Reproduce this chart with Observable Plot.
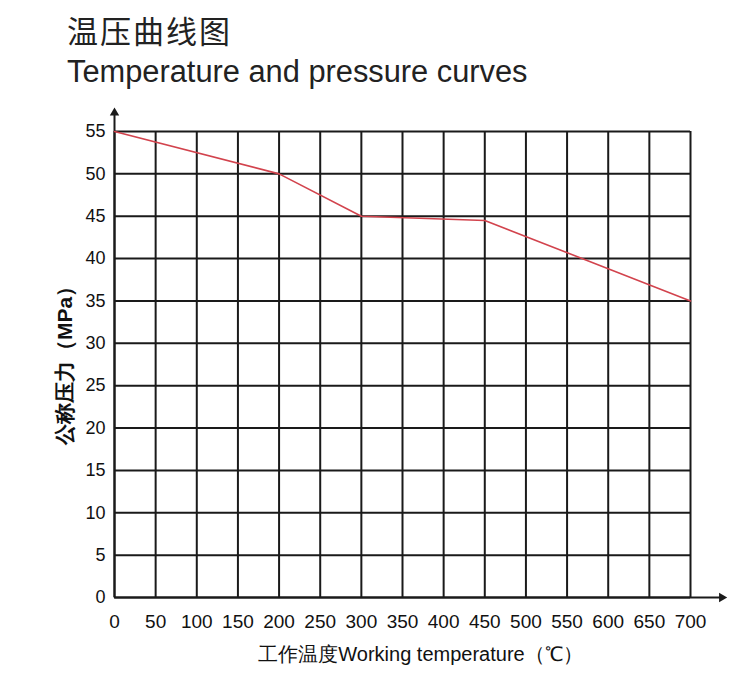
<!DOCTYPE html>
<html>
<head>
<meta charset="utf-8">
<script src="https://cdn.jsdelivr.net/npm/d3@7"></script>
<script src="https://cdn.jsdelivr.net/npm/@observablehq/plot@0.6"></script>
<style>
  body { margin: 0; background: #fff; width: 741px; height: 679px; overflow: hidden; }
  #head { position: relative; height: 100px; }
  #t1 { position: absolute; left: 67px; top: 14px; font-family: "Noto Sans CJK SC", sans-serif; font-size: 31px; line-height: 1; letter-spacing: 2px; color: #222; }
  #t2 { position: absolute; left: 67px; top: 57px; font-family: "Liberation Sans", Arial, sans-serif; font-size: 30.8px; line-height: 1; color: #222; }
  #chart svg { display: block; }
</style>
</head>
<body>
<div id="head">
  <div id="t1">温压曲线图</div>
  <div id="t2">Temperature and pressure curves</div>
</div>
<div id="chart"></div>
<script>
const temperature = [0, 200, 300, 450, 700];
const pressure = [55, 50, 45, 44.5, 35];
const xTicks = [0, 50, 100, 150, 200, 250, 300, 350, 400, 450, 500, 550, 600, 650, 700];
const yTicks = [0, 5, 10, 15, 20, 25, 30, 35, 40, 45, 50, 55];
const yLabel = "公称压力（MPa）";
const xLabel = "工作温度Working temperature（℃）";
const axisEnds = [
  {x: 0, y: 57.2, rotate: 0},
  {x: 738, y: 0, rotate: 90}
];

const data = temperature.map((t, i) => ({t, p: pressure[i]}));

const chart = Plot.plot({
  width: 741,
  height: 579,
  marginLeft: 114,
  marginRight: 51,
  marginTop: 31,
  marginBottom: 82,
  style: {fontFamily: "'Liberation Sans', Arial, sans-serif", fontSize: "18px", color: "#111", background: "#fff"},
  x: {domain: [0, 700]},
  y: {domain: [0, 55]},
  marks: [
    Plot.ruleY(yTicks, {y: d => d, x1: 0, x2: 700, stroke: "#1a1a1a", strokeWidth: 2, strokeOpacity: 1}),
    Plot.ruleX(xTicks, {x: d => d, y1: 0, y2: 55, stroke: "#1a1a1a", strokeWidth: 2, strokeOpacity: 1}),
    Plot.link(axisEnds, {x1: 0, y1: 0, x2: "x", y2: "y", stroke: "#1a1a1a", strokeWidth: 2}),
    Plot.dot(axisEnds, {x: "x", y: "y", rotate: "rotate", symbol: "triangle2", r: 4.5, fill: "#1a1a1a", stroke: "none"}),
    Plot.line(data, {x: "t", y: "p", stroke: "#d2434d", strokeWidth: 1.6}),
    Plot.axisY({ticks: yTicks, tickSize: 0, tickPadding: 9, label: null, fontSize: 18}),
    Plot.axisX({ticks: xTicks, tickSize: 0, tickPadding: 17, label: null, fontSize: 19, style: {letterSpacing: "-0.5px"}}),
    Plot.text([yLabel], {text: d => d, frameAnchor: "left", textAnchor: "middle", rotate: -90, dx: -49, dy: -4, fontSize: 21, fontWeight: "bold", fill: "#111", style: {letterSpacing: "1.5px"}}),
    Plot.text([xLabel], {text: d => d, frameAnchor: "bottom", dx: 18, dy: 63, fontSize: 20, fill: "#111"})
  ]
});
document.getElementById("chart").appendChild(chart);
</script>
</body>
</html>
